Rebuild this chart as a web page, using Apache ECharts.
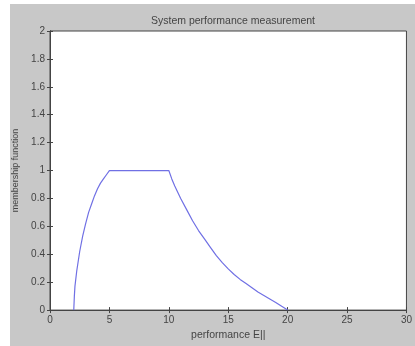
<!DOCTYPE html>
<html>
<head>
<meta charset="utf-8">
<script src="https://cdn.jsdelivr.net/npm/echarts@6/dist/echarts.min.js"></script>
<style>html,body{margin:0;padding:0;background:#fff}#c{width:415px;height:346px}</style>
</head>
<body>
<div id="c"></div>
<script>
var titleText = "System performance measurement";
var xName = "performance E||";
var yName = "membership function";
var xValues = [2, 2.05, 2.1, 2.25, 2.5, 2.75, 3, 3.25, 3.5, 3.75, 4, 4.25, 4.5, 4.75, 5,
  10, 10.25, 10.5, 11, 11.5, 12, 12.5, 13, 13.5, 14, 14.5, 15, 15.5, 16, 16.5, 17, 17.5, 18, 18.5, 19, 19.5, 20];
var yValues = [0, 0.1, 0.17, 0.28, 0.42, 0.53, 0.62, 0.7, 0.76, 0.82, 0.87, 0.91, 0.94, 0.97, 1.0,
  1.0, 0.94, 0.89, 0.8, 0.72, 0.64, 0.57, 0.51, 0.45, 0.39, 0.34, 0.295, 0.255, 0.22, 0.19, 0.16, 0.13, 0.105, 0.08, 0.055, 0.027, 0];
var xTicks = [0, 5, 10, 15, 20, 25, 30];
var yTicks = [0, 0.2, 0.4, 0.6, 0.8, 1, 1.2, 1.4, 1.6, 1.8, 2];

var data = xValues.map(function (x, i) { return [x, yValues[i]]; });
var font = 'Liberation Sans';
var chart = echarts.init(document.getElementById('c'), null, {renderer: 'canvas'});
var tick = {show: true, inside: true, length: 3, lineStyle: {color: '#444', width: 1}};
chart.setOption({
  animation: false,
  backgroundColor: '#c8c8c8',
  graphic: [
    {type: 'rect', shape: {x: 0, y: 0, width: 415, height: 4}, style: {fill: '#fff'}, silent: true},
    {type: 'rect', shape: {x: 0, y: 0, width: 10, height: 346}, style: {fill: '#fff'}, silent: true}
  ],
  title: {
    text: titleText, left: 228, top: 11, textAlign: 'center',
    textStyle: {fontFamily: font, fontSize: 10.5, fontWeight: 'normal', color: '#444'}
  },
  grid: {left: 50, right: 6, top: 31, bottom: 34, show: true, backgroundColor: '#fff', borderColor: '#444', borderWidth: 1},
  xAxis: [{
    type: 'value', min: 0, max: 30, interval: 5,
    name: xName, nameLocation: 'middle', nameGap: 12,
    nameTextStyle: {fontFamily: font, fontSize: 10.5, color: '#444'},
    axisLine: {show: true, lineStyle: {color: '#444'}},
    axisTick: tick,
    axisLabel: {fontFamily: font, fontSize: 10, color: '#444', margin: 5},
    splitLine: {show: false}
  }, {
    type: 'value', min: 0, max: 30, interval: 5, position: 'top',
    axisLine: {show: true, lineStyle: {color: '#444'}},
    axisTick: tick, axisLabel: {show: false}, splitLine: {show: false}
  }],
  yAxis: [{
    type: 'value', min: 0, max: 2, interval: 0.2,
    name: yName, nameLocation: 'middle', nameGap: 28, nameRotate: 90,
    nameTextStyle: {fontFamily: font, fontSize: 9, color: '#444'},
    axisLine: {show: true, lineStyle: {color: '#444'}},
    axisTick: tick,
    axisLabel: {fontFamily: font, fontSize: 10, color: '#444', margin: 5,
      formatter: function (v) { return String(Math.round(v * 10) / 10); }},
    splitLine: {show: false}
  }, {
    type: 'value', min: 0, max: 2, interval: 0.2, position: 'right',
    axisLine: {show: true, lineStyle: {color: '#444'}},
    axisTick: tick, axisLabel: {show: false}, splitLine: {show: false}
  }],
  series: [{
    type: 'line', data: data, showSymbol: false, smooth: false,
    lineStyle: {color: '#7070e4', width: 1.2}
  }]
});
</script>
</body>
</html>
